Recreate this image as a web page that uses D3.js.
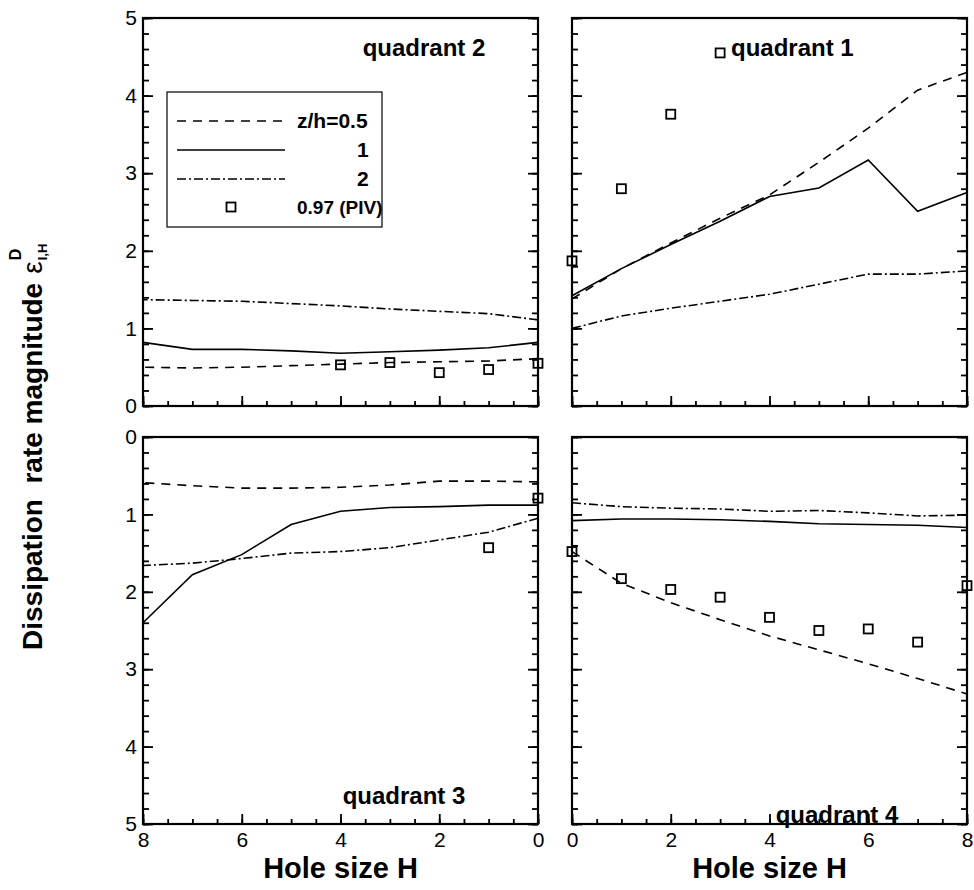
<!DOCTYPE html>
<html><head><meta charset="utf-8">
<script src="https://cdn.jsdelivr.net/npm/d3@7"></script>
<style>body{margin:0;background:#fff}svg{display:block}text{font-family:"Liberation Sans",Arial,Helvetica,sans-serif;fill:#000}</style>
</head><body>
<script>
// ---------- data ----------
const holeSizes = [0,1,2,3,4,5,6,7,8];
const q2_z05 = [0.61,0.58,0.57,0.56,0.54,0.52,0.50,0.49,0.50];
const q2_z1  = [0.82,0.75,0.72,0.70,0.68,0.71,0.73,0.73,0.82];
const q2_z2  = [1.11,1.19,1.22,1.25,1.29,1.32,1.35,1.36,1.37];
const q2_pivX = [0,1,2,3,4];
const q2_piv  = [0.55,0.47,0.43,0.56,0.53];

const q1_z05 = [1.38,1.77,2.10,2.42,2.72,3.14,3.58,4.07,4.30];
const q1_z1  = [1.42,1.77,2.08,2.38,2.70,2.81,3.17,2.51,2.75];
const q1_z2  = [1.00,1.16,1.26,1.35,1.44,1.57,1.70,1.70,1.74];
const q1_pivX = [0,1,2,3];
const q1_piv  = [1.87,2.80,3.76,4.55];

const q3_z05 = [0.58,0.57,0.57,0.62,0.65,0.66,0.66,0.63,0.59];
const q3_z1  = [0.88,0.88,0.90,0.91,0.96,1.13,1.52,1.78,2.40];
const q3_z2  = [1.05,1.23,1.33,1.43,1.48,1.50,1.57,1.63,1.66];
const q3_pivX = [0,1];
const q3_piv  = [0.79,1.43];

const q4_z05 = [1.48,1.89,2.14,2.36,2.57,2.75,2.93,3.12,3.32];
const q4_z1  = [1.08,1.06,1.06,1.07,1.09,1.12,1.13,1.14,1.17];
const q4_z2  = [0.85,0.90,0.92,0.93,0.96,0.95,0.98,1.02,1.01];
const q4_pivX = [0,1,2,3,4,5,6,7,8];
const q4_piv  = [1.48,1.83,1.97,2.07,2.33,2.50,2.48,2.65,1.92];

const xMajorTicks = [0,2,4,6,8];
const yMajorTicks = [0,1,2,3,4,5];
const legendLabels = ["z/h=0.5","1","2","0.97 (PIV)"];
const panelLabels = ["quadrant 2","quadrant 1","quadrant 3","quadrant 4"];
const xTitle = "Hole size H";
const yTitle = "Dissipation  rate magnitude";

// ---------- layout ----------
const W = 974, H = 890;
const svg = d3.select("body").append("svg").attr("width", W).attr("height", H);

const xL = d3.scaleLinear().domain([8,0]).range([143,538]);
const xR = d3.scaleLinear().domain([0,8]).range([572,967]);
const yT = d3.scaleLinear().domain([0,5]).range([406,18]);
const yB = d3.scaleLinear().domain([0,5]).range([437,824]);

const xMinor = d3.range(0,8.001,0.5);
const yMinor = d3.range(0,5.001,0.2).map(v=>+v.toFixed(1));

const styles = {
  dash: "9,7",
  solid: null,
  dashdot: "9,3,2,3"
};

function panel(x, y, series, pivX, piv, showYLabels, showXLabels, label, labelPos, anchor) {
  const g = svg.append("g");
  const [x0,x1] = d3.extent(x.range());
  const [y0,y1] = d3.extent(y.range());
  g.append("g").attr("transform",`translate(${x0},0)`)
    .call(d3.axisRight(y).tickValues(yMinor).tickSize(6).tickFormat(""))
    .call(a=>a.select(".domain").remove());
  g.append("g").attr("transform",`translate(${x0},0)`)
    .call(d3.axisRight(y).tickValues(yMajorTicks).tickSize(10).tickFormat(""))
    .call(a=>a.select(".domain").remove());
  g.append("g").attr("transform",`translate(${x1},0)`)
    .call(d3.axisLeft(y).tickValues(yMinor).tickSize(6).tickFormat(""))
    .call(a=>a.select(".domain").remove());
  g.append("g").attr("transform",`translate(${x1},0)`)
    .call(d3.axisLeft(y).tickValues(yMajorTicks).tickSize(10).tickFormat(""))
    .call(a=>a.select(".domain").remove());
  g.append("g").attr("transform",`translate(0,${y1})`)
    .call(d3.axisTop(x).tickValues(xMinor).tickSize(5).tickFormat(""))
    .call(a=>a.select(".domain").remove());
  g.append("g").attr("transform",`translate(0,${y1})`)
    .call(d3.axisTop(x).tickValues(xMajorTicks).tickSize(10).tickFormat(""))
    .call(a=>a.select(".domain").remove());
  g.selectAll(".tick line").attr("stroke","#000").attr("stroke-width",1.8);

  if (showYLabels) {
    const ya = g.append("g").attr("transform",`translate(${x0},0)`)
      .call(d3.axisLeft(y).tickValues(yMajorTicks).tickSize(0).tickPadding(6).tickFormat(d3.format("d")));
    ya.select(".domain").remove();
    ya.selectAll("text").attr("font-size",21).attr("font-family","Liberation Sans, Arial, sans-serif").attr("fill","#000");
  }
  if (showXLabels) {
    const xa = g.append("g").attr("transform",`translate(0,${y1})`)
      .call(d3.axisBottom(x).tickValues(xMajorTicks).tickSize(0).tickPadding(8).tickFormat(d3.format("d")));
    xa.select(".domain").remove();
    xa.selectAll("text").attr("font-size",21).attr("font-family","Liberation Sans, Arial, sans-serif").attr("fill","#000");
  }

  const line = d3.line().x(d=>x(d[0])).y(d=>y(d[1]));
  series.forEach(s=>{
    g.append("path").datum(holeSizes.map((h,i)=>[h,s.values[i]]))
      .attr("d", line).attr("fill","none").attr("stroke","#000")
      .attr("stroke-width",1.6)
      .attr("stroke-dasharray", styles[s.style]);
  });
  g.selectAll("rect.piv").data(pivX.map((h,i)=>[h,piv[i]])).enter().append("rect")
    .attr("x",d=>x(d[0])-4.5).attr("y",d=>y(d[1])-4.5)
    .attr("width",9).attr("height",9)
    .attr("fill","none").attr("stroke","#000").attr("stroke-width",1.8);

  g.append("rect").attr("x",x0).attr("y",y0).attr("width",x1-x0).attr("height",y1-y0)
    .attr("fill","none").attr("stroke","#000").attr("stroke-width",2.2);

  g.append("text").attr("x",labelPos[0]).attr("y",labelPos[1])
    .attr("text-anchor",anchor).attr("font-weight","bold").attr("font-size",24)
    .text(label);
}

panel(xL, yT, [{values:q2_z05,style:"dash"},{values:q2_z1,style:"solid"},{values:q2_z2,style:"dashdot"}],
      q2_pivX, q2_piv, true, false, panelLabels[0], [424,56], "middle");
panel(xR, yT, [{values:q1_z05,style:"dash"},{values:q1_z1,style:"solid"},{values:q1_z2,style:"dashdot"}],
      q1_pivX, q1_piv, false, false, panelLabels[1], [731,56], "start");
panel(xL, yB, [{values:q3_z05,style:"dash"},{values:q3_z1,style:"solid"},{values:q3_z2,style:"dashdot"}],
      q3_pivX, q3_piv, true, true, panelLabels[2], [404,804], "middle");
panel(xR, yB, [{values:q4_z05,style:"dash"},{values:q4_z1,style:"solid"},{values:q4_z2,style:"dashdot"}],
      q4_pivX, q4_piv, false, true, panelLabels[3], [837,823], "middle");

// legend
const lg = svg.append("g");
lg.append("rect").attr("x",167).attr("y",92).attr("width",215).attr("height",135)
  .attr("fill","#fff").attr("stroke","#000").attr("stroke-width",1.2);
const legendY = [121,150,179,207];
const legendStyles = ["dash","solid","dashdot"];
legendStyles.forEach((s,i)=>{
  lg.append("line").attr("x1",177).attr("x2",285).attr("y1",legendY[i]).attr("y2",legendY[i])
    .attr("stroke","#000").attr("stroke-width",1.6).attr("stroke-dasharray",styles[s]);
});
lg.append("rect").attr("x",231-4.5).attr("y",legendY[3]-4.5).attr("width",9).attr("height",9)
  .attr("fill","none").attr("stroke","#000").attr("stroke-width",1.8);
const legendTextX = [297,357,357,297];
legendLabels.forEach((t,i)=>{
  lg.append("text").attr("x",legendTextX[i]).attr("y",legendY[i]+7)
    .attr("font-weight","bold").attr("font-size",i===3?19:21).text(t);
});

// axis titles
svg.append("text").attr("x",(xL(8)+xL(0))/2).attr("y",878).attr("text-anchor","middle")
  .attr("font-weight","bold").attr("font-size",29).text(xTitle);
svg.append("text").attr("x",(xR(0)+xR(8))/2).attr("y",878).attr("text-anchor","middle")
  .attr("font-weight","bold").attr("font-size",29).text(xTitle);

const yt = svg.append("g").attr("transform","translate(42,650) rotate(-90)");
const mainT = yt.append("text").attr("x",0).attr("y",0).attr("font-weight","bold").attr("font-size",28)
  .attr("xml:space","preserve").style("white-space","pre").text(yTitle);
const len = mainT.node().getComputedTextLength();
const epsX = len + 9;
const eps = yt.append("text").attr("x",epsX).attr("y",0).attr("font-size",28).text("ε");
const elen = eps.node().getComputedTextLength();
yt.append("text").attr("x",epsX+elen+1).attr("y",-21).attr("font-weight","bold").attr("font-size",16).text("D");
yt.append("text").attr("x",epsX+elen+1).attr("y",5).attr("font-weight","bold").attr("font-size",13).text("I,H");
</script>
</body></html>
